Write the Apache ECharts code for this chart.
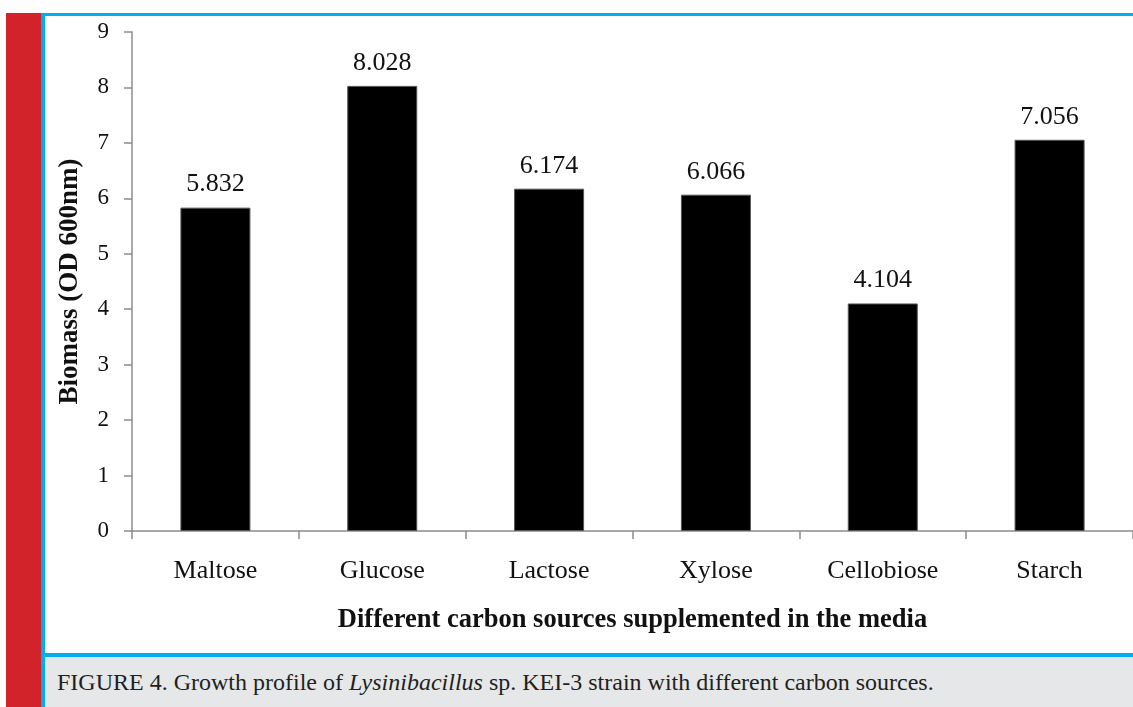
<!DOCTYPE html>
<html>
<head>
<meta charset="utf-8">
<script src="https://cdn.jsdelivr.net/npm/echarts@6/dist/echarts.min.js"></script>
<style>
  html, body { margin: 0; padding: 0; background: #fff; }
  body { width: 1133px; height: 707px; position: relative; overflow: hidden; }
  .red { position: absolute; left: 6px; top: 13px; width: 36px; height: 694px; background: #d2232a; }
  .cyanTop { position: absolute; left: 41px; top: 13px; width: 1092px; height: 3px; background: #00aeef; }
  .cyanLeft { position: absolute; left: 41px; top: 13px; width: 4px; height: 694px; background: #00aeef; }
  .cyanBottom { position: absolute; left: 45px; top: 653px; width: 1088px; height: 4px; background: #00aeef; }
  .caption { position: absolute; left: 45px; top: 657px; width: 1088px; height: 50px; background: #e6e7e8;
             font-family: "Liberation Serif", serif; font-size: 24px; color: #231f20; line-height: 50px; padding-left: 12px; box-sizing: border-box; white-space: nowrap; }
  .chart { position: absolute; left: 0; top: 0; width: 1133px; height: 707px; }
</style>
</head>
<body>
<div class="red"></div>
<div class="chart" id="chart"></div>
<div class="cyanTop"></div>
<div class="cyanLeft"></div>
<div class="cyanBottom"></div>
<div class="caption">FIGURE 4. Growth profile of <i>Lysinibacillus</i> sp. KEI-3 strain with different carbon sources.</div>
<script>
// 碳源类别和生物量数据
var categories = ['Maltose', 'Glucose', 'Lactose', 'Xylose', 'Cellobiose', 'Starch'];
var biomass = [5.832, 8.028, 6.174, 6.066, 4.104, 7.056];
var yTicks = [0, 1, 2, 3, 4, 5, 6, 7, 8, 9];

var chart = echarts.init(document.getElementById('chart'));

var font = '"Liberation Serif", "Times New Roman", serif';

var option = {
    animation: false,
    grid: {
        left: 132,
        top: 32,
        width: 1007,
        height: 499
    },
    xAxis: {
        type: 'category',
        data: categories,
        name: 'Different carbon sources supplemented in the media',
        nameLocation: 'middle',
        nameGap: 76,
        nameTextStyle: { fontFamily: font, fontSize: 26.5, fontWeight: 'bold', color: '#111' },
        axisLine: { lineStyle: { color: '#8c8c8c', width: 1.5 } },
        axisTick: { show: true, length: 8, alignWithLabel: false, lineStyle: { color: '#8c8c8c', width: 1.5 } },
        axisLabel: { fontFamily: font, fontSize: 26, color: '#111', margin: 27 }
    },
    yAxis: {
        type: 'value',
        min: yTicks[0],
        max: yTicks[yTicks.length - 1],
        interval: 1,
        name: 'Biomass (OD 600nm)',
        nameLocation: 'middle',
        nameGap: 48,
        nameTextStyle: { fontFamily: font, fontSize: 27, fontWeight: 'bold', color: '#111' },
        axisLine: { show: true, lineStyle: { color: '#8c8c8c', width: 1.5 } },
        axisTick: { show: true, length: 8, lineStyle: { color: '#8c8c8c', width: 1.5 } },
        axisLabel: { fontFamily: font, fontSize: 23, color: '#111', margin: 23 },
        splitLine: { show: false }
    },
    series: [{
        type: 'bar',
        data: biomass,
        barWidth: 70,
        itemStyle: { color: '#000', borderColor: '#555', borderWidth: 1 },
        label: {
            show: true,
            position: 'top',
            distance: 10,
            fontFamily: font,
            fontSize: 26,
            color: '#111',
            formatter: function (p) { return p.value.toFixed(3); }
        }
    }]
};

chart.setOption(option);
</script>
</body>
</html>
